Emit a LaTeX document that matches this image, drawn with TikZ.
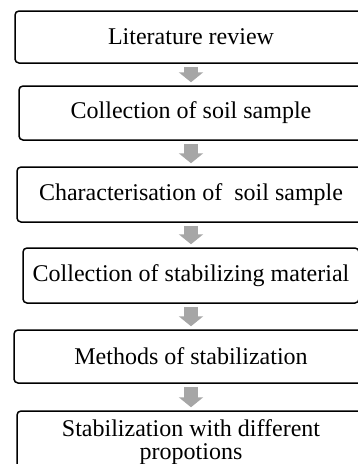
\documentclass[tikz,border=0pt]{standalone}
\usepackage{fontspec}
\setmainfont{Liberation Serif}
\usepackage{tikz}
\usetikzlibrary{arrows.meta}

\tikzset{
    stepbox/.style={draw, line width=1.5pt, rounded corners=4pt, inner sep=0pt,
        align=center, font=\fontsize{24pt}{23pt}\selectfont},
    flowarrow/.style={draw=gray!70, line width=14pt, shorten <=3pt, shorten >=3pt,
        -{Triangle[length=10pt, width=24pt]}}
}

\begin{document}
\begin{tikzpicture}[x=1pt, y=-1pt]
    \useasboundingbox (0, 0) rectangle (358, 464);

    \node[stepbox, minimum width=352pt, minimum height=52pt] (lit) at (191, 37) {Literature review};
    \node[stepbox, minimum width=344pt, minimum height=54pt] (soil) at (191, 113) {Collection of soil sample};
    \node[stepbox, minimum width=348pt, minimum height=55pt] (char) at (191, 194.5) {Characterisation of\ \ soil sample};
    \node[stepbox, minimum width=336pt, minimum height=55pt] (mat) at (191, 275.5) {Collection of stabilizing material};
    \node[stepbox, minimum width=354pt, minimum height=53pt] (meth) at (191, 356.5) {Methods of stabilization};
    \node[stepbox, minimum width=348pt, minimum height=62pt] (prop) at (191, 442) {Stabilization with different\\propotions};

    \draw[flowarrow] (lit.south) -- (soil.north);
    \draw[flowarrow] (soil.south) -- (char.north);
    \draw[flowarrow] (char.south) -- (mat.north);
    \draw[flowarrow] (mat.south) -- (meth.north);
    \draw[flowarrow] (meth.south) -- (prop.north);
\end{tikzpicture}
\end{document}
